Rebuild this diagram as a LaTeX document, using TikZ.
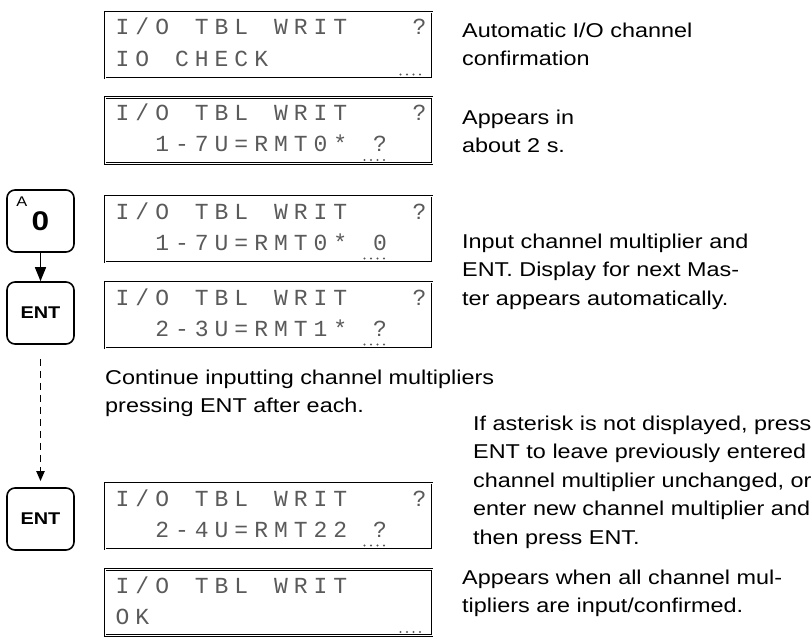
\documentclass[tikz,border=0pt]{standalone}
\usepackage{fontspec}
\setmainfont{Liberation Sans}[FakeStretch=1.17]
\newfontfamily\lcdfont{Liberation Mono}
\usetikzlibrary{positioning, arrows.meta, calc}
\definecolor{lcdgray}{HTML}{5A5A5A}

% one fixed cell per character, ~ stands for a blank cell
\ExplSyntaxOn
\NewDocumentCommand\lcdtext{m}{\tl_map_inline:nn{#1}{\makebox[19.8pt]{##1}}}
\ExplSyntaxOff

\tikzset{
  display/.style={draw, line width=1pt, double distance=0.6pt, minimum width=327pt, minimum height=66pt, inner sep=0pt},
  lcdrow/.style={anchor=base west, inner sep=0pt, text=lcdgray, font=\lcdfont\fontsize{23}{23}\selectfont},
  keybox/.style={draw, line width=1.6pt, rounded corners=8pt, minimum width=67pt, minimum height=62pt, inner sep=0pt},
  note/.style={anchor=north west, align=left, inner sep=0pt, font=\fontsize{20}{28.5}\selectfont},
  cursordot/.style={fill=lcdgray},
}

\begin{document}
\begin{tikzpicture}[x=1pt, y=-1pt]
    \useasboundingbox (0,0) rectangle (811,639);

    % displays
    \node[display] (disp1) at (268.5,45) {};
    \node[lcdrow] (disp1a) at ($(disp1.north west)+(8,23)$) {\lcdtext{I/O~TBL~WRIT~~~?}};
    \node[lcdrow] (disp1b) at ($(disp1.north west)+(8,55)$) {\lcdtext{IO~CHECK}};
    \foreach \d in {0,...,3} \fill[cursordot] ($(disp1.south west)+(296+6.5*\d,-4)$) circle (1.1pt);

    \node[display] (disp2) at (268.5,130.5) {};
    \node[lcdrow] (disp2a) at ($(disp2.north west)+(8,24)$) {\lcdtext{I/O~TBL~WRIT~~~?}};
    \node[lcdrow] (disp2b) at ($(disp2.north west)+(8,55)$) {\lcdtext{~~1-7U=RMT0*~?}};
    \foreach \d in {0,...,3} \fill[cursordot] ($(disp2.south west)+(260+6.5*\d,-4)$) circle (1.1pt);

    \node[display] (disp3) at (268.5,229) {};
    \node[lcdrow] (disp3a) at ($(disp3.north west)+(8,24)$) {\lcdtext{I/O~TBL~WRIT~~~?}};
    \node[lcdrow] (disp3b) at ($(disp3.north west)+(8,55)$) {\lcdtext{~~1-7U=RMT0*~0}};
    \foreach \d in {0,...,3} \fill[cursordot] ($(disp3.south west)+(260+6.5*\d,-4)$) circle (1.1pt);

    \node[display] (disp4) at (268.5,315) {};
    \node[lcdrow] (disp4a) at ($(disp4.north west)+(8,24)$) {\lcdtext{I/O~TBL~WRIT~~~?}};
    \node[lcdrow] (disp4b) at ($(disp4.north west)+(8,55)$) {\lcdtext{~~2-3U=RMT1*~?}};
    \foreach \d in {0,...,3} \fill[cursordot] ($(disp4.south west)+(260+6.5*\d,-4)$) circle (1.1pt);

    \node[display] (disp5) at (268.5,516) {};
    \node[lcdrow] (disp5a) at ($(disp5.north west)+(8,24)$) {\lcdtext{I/O~TBL~WRIT~~~?}};
    \node[lcdrow] (disp5b) at ($(disp5.north west)+(8,55)$) {\lcdtext{~~2-4U=RMT22~?}};
    \foreach \d in {0,...,3} \fill[cursordot] ($(disp5.south west)+(260+6.5*\d,-4)$) circle (1.1pt);

    \node[display] (disp6) at (268.5,602.5) {};
    \node[lcdrow] (disp6a) at ($(disp6.north west)+(8,24)$) {\lcdtext{I/O~TBL~WRIT}};
    \node[lcdrow] (disp6b) at ($(disp6.north west)+(8,55)$) {\lcdtext{OK}};
    \foreach \d in {0,...,3} \fill[cursordot] ($(disp6.south west)+(296+6.5*\d,-4)$) circle (1.1pt);

    % keys
    \node[keybox] (key0) at (40.5,221) {\raisebox{-3pt}{\fontsize{27}{27}\selectfont\bfseries 0}};
    \node[anchor=north west, inner sep=0pt, font=\fontsize{14}{14}\selectfont] (key0shift) at ($(key0.north west)+(10,7)$) {A};
    \node[keybox] (ent1) at (40.5,313) {\fontsize{17}{17}\selectfont\bfseries ENT};
    \node[keybox] (ent2) at (40.5,519) {\fontsize{17}{17}\selectfont\bfseries ENT};

    \draw[line width=1.5pt, -{Triangle[length=14pt, width=11pt]}] (key0) -- (ent1);
    \draw[line width=1.8pt, dash pattern=on 7pt off 5pt, shorten <=14pt, shorten >=6pt,
          -{Triangle[length=10pt, width=8pt]}] (ent1) -- (ent2);

    % notes
    \node[note] (note1) at (462,22.5) {Automatic I/O channel\\confirmation};
    \node[note] (note2) at (462,109.5) {Appears in\\about 2 s.};
    \node[note] (note3) at (462,233.5) {Input channel multiplier and\\ENT. Display for next Mas-\\ter appears automatically.};
    \node[note] (note4) at (105,369.5) {Continue inputting channel multipliers\\pressing ENT after each.};
    \node[note] (note5) at (473,415.5) {If asterisk is not displayed, press\\ENT to leave previously entered\\channel multiplier unchanged, or\\enter new channel multiplier and\\then press ENT.};
    \node[note] (note6) at (462,569.5) {Appears when all channel mul-\\tipliers are input/confirmed.};
  \end{tikzpicture}
\end{document}
